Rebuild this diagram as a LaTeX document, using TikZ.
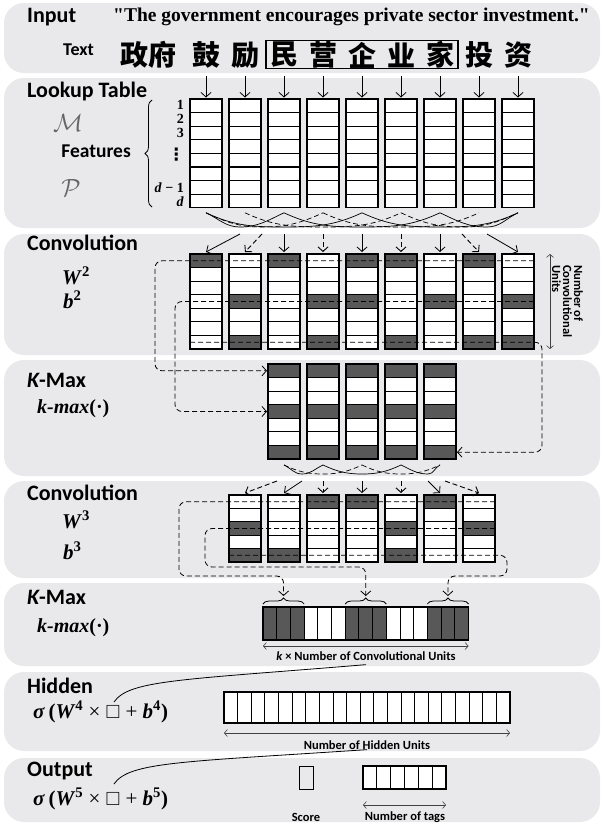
\documentclass[tikz,border=0pt]{standalone}
\usepackage{amssymb}
\usepackage{fontspec}
\setmainfont{Liberation Serif}
\newfontfamily\qf{Liberation Serif}[Ligatures=ResetAll]
\newfontfamily\lab{Carlito}
\newfontfamily\dvs{DejaVu Sans}
\newfontfamily\cjk{Noto Sans CJK SC}
\usetikzlibrary{arrows.meta,decorations.pathreplacing}
\definecolor{panel}{RGB}{233,233,235}
\definecolor{dk}{RGB}{88,88,88}
\tikzset{
  title/.style={anchor=base west, inner sep=0pt, font=\lab\bfseries\fontsize{22}{24}\selectfont},
  slab/.style={inner sep=0pt, font=\lab\bfseries\fontsize{12.5}{13}\selectfont},
  serifl/.style={anchor=base west, inner sep=0pt, font=\fontsize{21}{24}\selectfont},
  rowlab/.style={anchor=east, inner sep=0pt, font=\bfseries\fontsize{14}{14}\selectfont},
  cell/.style={draw, line width=1.1pt, fill=white, minimum width=32pt, inner sep=0pt, outer sep=0pt},
  hcell/.style={draw, line width=0.9pt, fill=white, inner sep=0pt, outer sep=0pt},
  arr/.style={-{Straight Barb[length=4.5pt,width=10pt]}, line width=0.8pt},
  dsh/.style={dash pattern=on 5pt off 3pt, line width=0.9pt},
  darr/.style={{Straight Barb[length=3pt,width=7pt]}-{Straight Barb[length=3pt,width=7pt]}, line width=0.6pt, black!75},
  hanzi/.style={inner sep=0pt, font=\cjk\bfseries\fontsize{28}{28}\selectfont},
  brc/.style={decorate, line width=0.8pt},
}
\begin{document}
\begin{tikzpicture}[x=1pt,y=-1pt]
\useasboundingbox (0,0) rectangle (603,827);
% panels
\foreach \a/\b in {3/73, 78/228, 234/355, 360/476, 481/578, 583/666, 672/751, 758/822}
  \fill[panel, rounded corners=20pt] (4,\a) rectangle (600,\b);

% ---------- Input ----------
\node[title] (tin) at (27,22) {Input};
\node[anchor=base west, inner sep=0pt, font=\qf\bfseries\fontsize{19.5}{20}\selectfont] (quote) at (113,21) {"The government encourages private sector investment."};
\node[anchor=base west, inner sep=0pt, font=\lab\bfseries\fontsize{18}{18}\selectfont] (ttext) at (63,55) {Text};
\node[hanzi] (ch0) at (134,55) {政};
\node[hanzi] (ch1) at (162,55) {府};
\node[hanzi] (ch2) at (206,55) {鼓};
\node[hanzi] (ch3) at (245,55) {励};
\node[hanzi] (ch4) at (284,55) {民};
\node[hanzi] (ch5) at (323,55) {营};
\node[hanzi] (ch6) at (362,55) {企};
\node[hanzi] (ch7) at (401,55) {业};
\node[hanzi] (ch8) at (440,55) {家};
\node[hanzi] (ch9) at (479,55) {投};
\node[hanzi] (ch10) at (518,55) {资};
\node[draw, line width=1.1pt, minimum width=192pt, minimum height=28pt, inner sep=0pt] (cbox) at (362,54.5) {};

% ---------- Lookup table ----------
\node[title] (tlk) at (27,97) {Lookup Table};
\node[inner sep=0pt, font=\fontsize{23}{23}\selectfont, text=black!60] (mM) at (68,123) {$\mathcal{M}$};
\node[inner sep=0pt, font=\fontsize{23}{23}\selectfont, text=black!60] (mP) at (71,188) {$\mathcal{P}$};
\node[anchor=east, inner sep=0pt, font=\lab\bfseries\fontsize{19.5}{20}\selectfont] (feat) at (131,151) {Features};
\draw[brc, decoration={brace, amplitude=7pt}] (152,207) -- (152,100);
\node[rowlab] (r1) at (184,105) {1};
\node[rowlab] (r2) at (184,119) {2};
\node[rowlab] (r3) at (184,133) {3};
\node[anchor=east, inner sep=0pt, font=\dvs\bfseries\fontsize{17}{17}\selectfont] (rv) at (185,155) {⋮};
\node[rowlab] (rd1) at (184,188) {\textit{d} − 1};
\node[rowlab] (rd) at (184,202) {\textit{d}};
\foreach \i in {0,...,8}{
  \foreach \r in {0,...,7}
    \node[cell, minimum height=13.6pt] (L\i-\r) at ({206+39*\i},{99+13.6*\r+6.8}) {};
  \draw[arr] ([yshift=23pt]L\i-0.north) -- ([yshift=1.5pt]L\i-0.north);
}

% ---------- Convolution (2) ----------
\node[title] (tc2) at (27,250) {Convolution};
\node[serifl] (w2) at (62,284) {\bfseries\textit{W}\textsuperscript{2}};
\node[serifl] (b2) at (63,308) {\bfseries\textit{b}\textsuperscript{2}};
\foreach \i in {0,...,8}
  \foreach \r in {0,...,6}
    \node[cell, minimum height=13.57pt] (C\i-\r) at ({206+39*\i},{254+13.57*\r+6.785}) {};
\foreach \i/\r in {0/0,2/0,4/0,5/0,7/0, 1/3,3/3,4/3,6/3,8/3, 1/6,3/6,5/6,7/6,8/6}
  \node[cell, fill=dk, minimum height=13.57pt] (C\i-\r) at ({206+39*\i},{254+13.57*\r+6.785}) {};

% connections lookup -> conv
\foreach \j/\s/\l/\r/\st in {0/240/0/2/solid, 1/262/0/3/dsh, 2/284/0/4/solid, 3/323/1/5/dsh, 4/362/2/6/solid, 5/401/3/7/dsh, 6/440/4/8/solid, 7/462/5/8/dsh, 8/487/6/8/solid}{
  \coordinate (sa\j) at (\s,227);
  \draw[\st, line width=0.7pt] ([yshift=-5pt]L\l-7.south) to[out=-25,in=180] (sa\j) to[out=0,in=205] ([yshift=-5pt]L\r-7.south);
  \draw[arr, \st] ([yshift=-7pt]sa\j) -- ([yshift=2pt]C\j-0.north);
}

% number of convolutional units
\coordinate (ncu) at (550,0);
\draw[darr] (C8-0.north -| ncu) -- (C8-6.south -| ncu);
\node[rotate=-90, anchor=north west, align=left, inner sep=0pt, font=\lab\bfseries\fontsize{12.5}{11}\selectfont] (ncutext) at (583,265) {Number of\\Convolutional\\Units};

% ---------- K-Max (2) ----------
\node[title] (tk2) at (27,387) {\itshape K\upshape-Max};
\node[anchor=base west, inner sep=0pt, font=\fontsize{20}{24}\selectfont] (kf2) at (37,413) {\bfseries\textit{k-max}(·)};
\foreach \m in {0,...,4}
  \foreach \r in {0,...,6}
    \node[cell, minimum height=13.57pt] (K\m-\r) at ({284+39*\m},{364+13.57*\r+6.785}) {};
\foreach \m in {0,...,4}
  \foreach \r in {0,3,6}
    \node[cell, fill=dk, minimum height=13.57pt] (K\m-\r) at ({284+39*\m},{364+13.57*\r+6.785}) {};

% dashed loops conv -> kmax
\coordinate (xl1) at (155,0);
\coordinate (xl2) at (175,0);
\coordinate (xr1) at (542,0);
\draw[dsh, arr, rounded corners=7pt] (C8-0.east) -- (C8-0.east -| xl1) -- (K0-0.west -| xl1) -- ([xshift=-1pt]K0-0.west);
\draw[dsh, arr, rounded corners=7pt] (C8-3.east) -- (C8-3.east -| xl2) -- (K0-3.west -| xl2) -- ([xshift=-1pt]K0-3.west);
\draw[dsh, arr, rounded corners=7pt] (C0-6.west) -- (C8-6.east -| xr1) -- (K4-6.east -| xr1) -- ([xshift=1pt]K4-6.east);

% ---------- Convolution (3) ----------
\node[title] (tc3) at (27,500) {Convolution};
\node[serifl] (w3) at (62,528) {\bfseries\textit{W}\textsuperscript{3}};
\node[serifl] (b3) at (63,559) {\bfseries\textit{b}\textsuperscript{3}};
\foreach \j in {0,...,6}
  \foreach \r in {0,...,4}
    \node[cell, minimum height=13.4pt] (D\j-\r) at ({245+39*\j},{495+13.4*\r+6.7}) {};
\foreach \j/\r in {2/0,3/0,5/0, 0/2,4/2,6/2, 0/4,1/4,4/4}
  \node[cell, fill=dk, minimum height=13.4pt] (D\j-\r) at ({245+39*\j},{495+13.4*\r+6.7}) {};

% connections kmax -> conv3
\foreach \j/\s/\l/\r/\st in {1/302/0/1/solid, 2/323/0/2/dsh, 3/362/1/3/solid, 4/401/2/4/dsh, 5/428/3/4/solid}{
  \draw[\st, line width=0.7pt] ([yshift=-6pt]K\l-6.south) to[out=-25,in=180] (\s,474) to[out=0,in=205] ([yshift=-6pt]K\r-6.south);
}
\foreach \j/\s/\st in {0/277/dsh, 1/302/solid, 2/323/dsh, 3/362/solid, 4/401/dsh, 5/428/solid, 6/445/dsh}{
  \coordinate (sb\j) at (\s,474);
  \draw[arr, \st] ([yshift=-7pt]sb\j) -- ([yshift=2pt]D\j-0.north);
}

% ---------- K-Max (3) ----------
\node[title] (tk3) at (27,604) {\itshape K\upshape-Max};
\node[anchor=base west, inner sep=0pt, font=\fontsize{20}{24}\selectfont] (kf3) at (37,632) {\bfseries\textit{k-max}(·)};
\foreach \n in {0,...,14}
  \node[hcell, minimum width=13.7pt, minimum height=33pt] (S\n) at ({263+13.7*\n+6.85},623.5) {};
\foreach \n in {0,1,2,6,7,8,12,13,14}
  \node[hcell, fill=dk, minimum width=13.7pt, minimum height=33pt] (S\n) at ({263+13.7*\n+6.85},623.5) {};
\draw[line width=1.3pt] (S0.north west) rectangle (S14.south east);
\draw[brc, decoration={brace, amplitude=6pt, raise=3pt}] (S0.north west) -- (S2.north east);
\draw[brc, decoration={brace, amplitude=6pt, raise=3pt}] (S6.north west) -- (S8.north east);
\draw[brc, decoration={brace, amplitude=6pt, raise=3pt}] (S12.north west) -- (S14.north east);
\draw[darr] ([yshift=-6pt]S0.south west) -- ([yshift=-6pt]S14.south east);
\node[slab] (kmlab) at (366,656) {\textit{k} × Number of Convolutional Units};

% dashed loops conv3 -> kmax3
\coordinate (xa) at (179,0);
\coordinate (xb) at (205,0);
\coordinate (xc) at (507,0);
\coordinate (ya) at (0,576);
\coordinate (yb) at (0,567);
\draw[dsh, arr, rounded corners=7pt] (D6-0.east) -- (D6-0.east -| xa) -- (xa |- ya) -- (S1.north |- ya) -- ([yshift=11pt]S1.north);
\draw[dsh, arr, rounded corners=7pt] (D6-2.east) -- (D6-2.east -| xb) -- (xb |- yb) -- (S7.north |- yb) -- ([yshift=11pt]S7.north);
\draw[dsh, arr, rounded corners=7pt] (D0-4.west) -- (D6-4.east -| xc) -- (xc |- ya) -- (S13.north |- ya) -- ([yshift=11pt]S13.north);

% ---------- Hidden ----------
\node[title] (thd) at (27,693) {Hidden};
\node[serifl] (hf) at (33,718) {{\bfseries\textit{σ}\,(\textit{W}\textsuperscript{4}} × {\fontsize{19}{19}\selectfont$\square$} + {\bfseries\textit{b}\textsuperscript{4})}};
\foreach \n in {0,...,20}
  \node[hcell, minimum width=13.62pt, minimum height=31pt] (H\n) at ({224+13.62*\n+6.81},707.5) {};
\draw[line width=1.2pt] (H0.north west) rectangle (H20.south east);
\draw[darr] ([yshift=-10pt]H0.south west) -- ([yshift=-10pt]H20.south east);
\node[slab] (hlab) at (367,745) {Number of Hidden Units};
\coordinate (hsq) at (114,702);
\draw[line width=0.8pt] ([yshift=-4pt]kmlab.south) .. controls (180,680) and (129,680) .. (hsq);

% ---------- Output ----------
\node[title] (tout) at (27,776) {Output};
\node[serifl] (of) at (33,805) {{\bfseries\textit{σ}\,(\textit{W}\textsuperscript{5}} × {\fontsize{19}{19}\selectfont$\square$} + {\bfseries\textit{b}\textsuperscript{5})}};
\node[draw, line width=1pt, minimum width=14pt, minimum height=23pt, inner sep=0pt] (score) at (306,777.5) {};
\foreach \n in {0,...,5}
  \node[hcell, minimum width=13.83pt, minimum height=23pt] (T\n) at ({363+13.83*\n+6.915},777.5) {};
\draw[line width=1.1pt] (T0.north west) rectangle (T5.south east);
\draw[darr] ([yshift=-16pt]T0.south west) -- ([yshift=-16pt]T5.south east);
\node[slab] (scorelab) at (306,817) {Score};
\node[slab] (tagslab) at (405,817) {Number of tags};
\coordinate (osq) at (114,784);
\draw[line width=0.8pt] (hlab.south) .. controls (180,762) and (129,762) .. (osq);
\end{tikzpicture}
\end{document}
